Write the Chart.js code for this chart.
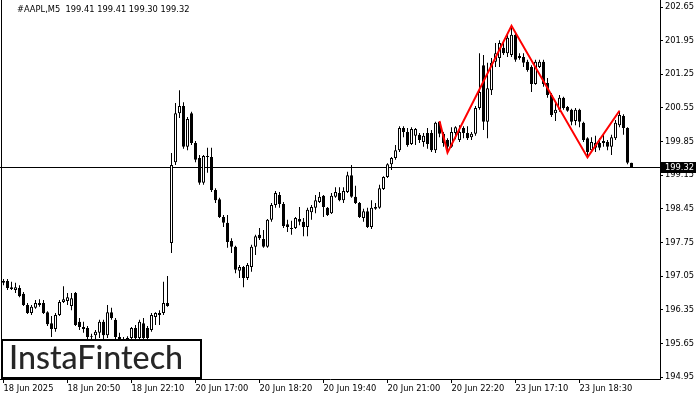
<!DOCTYPE html>
<html><head><meta charset="utf-8">
<script src="https://cdn.jsdelivr.net/npm/chart.js@4/dist/chart.umd.min.js"></script>
<style>html,body{margin:0;padding:0;background:#fff;}canvas{display:block;}</style>
</head><body>
<canvas id="c" width="700" height="400"></canvas>
<script>
const titleText = '#AAPL,M5  199.41 199.41 199.30 199.32';
const logoText = 'InstaFintech';
const lastPrice = 199.32;

const opens = [196.91,196.95,196.82,196.76,196.80,196.68,196.45,196.28,196.39,196.49,
196.49,196.30,196.07,195.95,196.24,196.51,196.53,196.43,196.70,196.10,
195.99,195.97,195.80,195.82,195.87,196.10,195.82,196.30,196.14,195.78,
195.74,195.68,195.76,195.97,195.76,196.07,195.97,195.93,196.20,196.24,
196.28,196.49,197.74,199.42,200.44,200.59,199.74,200.44,199.82,199.51,
198.99,199.55,199.53,198.84,198.65,198.28,198.16,197.78,197.66,197.16,
197.24,197.01,197.24,197.66,197.91,197.82,197.66,198.22,198.53,198.74,
198.55,198.13,198.05,198.05,198.24,198.18,198.07,198.38,198.47,198.59,
198.72,198.47,198.36,198.70,198.78,198.63,198.80,199.15,198.70,198.57,
198.26,198.40,198.07,198.45,198.47,198.86,199.11,199.38,199.51,199.67,
200.13,200.05,199.80,199.97,199.99,199.84,200.03,200.03,199.67,200.26,
200.01,199.88,199.74,200.03,199.88,200.13,200.03,199.94,200.01,200.55,
201.44,200.26,200.92,201.51,201.59,201.80,201.69,201.65,202.07,201.59,
201.61,201.51,201.40,201.05,201.40,201.51,201.07,200.82,200.44,200.51,
200.76,200.57,200.51,200.28,200.51,200.24,199.92,199.67,199.72,199.82,
199.82,199.84,199.74,199.92,200.19,200.38,200.13,199.41];
const highs = [196.99,196.99,196.93,196.91,196.86,196.72,196.49,196.45,196.55,196.57,
196.55,196.32,196.22,196.28,196.55,196.84,196.70,196.70,196.72,196.18,
196.10,196.01,195.85,195.93,196.14,196.14,196.45,196.39,196.18,195.87,
195.78,195.80,195.99,196.03,196.14,196.18,196.01,196.28,196.30,196.34,
196.93,197.05,199.61,200.65,200.92,200.67,200.36,200.47,199.86,199.57,
199.57,199.72,199.72,198.88,198.68,198.32,198.32,197.84,197.68,197.28,
197.26,197.32,197.70,197.91,198.05,198.01,198.24,198.57,198.82,198.80,
198.59,198.22,198.20,198.28,198.49,198.26,198.47,198.53,198.74,198.80,
198.74,198.49,198.78,198.90,198.90,198.90,199.22,199.36,198.93,198.59,
198.45,198.47,198.63,198.57,198.95,199.13,199.40,199.53,199.78,200.17,
200.17,200.13,200.15,200.13,200.03,200.03,200.13,200.09,200.26,200.28,
200.05,199.92,200.15,200.17,200.19,200.17,200.17,200.05,200.59,201.69,
201.65,201.49,201.59,201.90,201.96,201.90,202.11,202.26,202.11,201.69,
201.69,201.55,201.44,201.55,201.55,201.55,201.17,200.86,200.65,200.82,
200.78,200.59,200.53,200.55,200.53,200.26,199.94,199.94,199.97,199.92,
199.99,199.88,199.99,200.30,200.49,200.42,200.15,199.41];
const lows = [196.86,196.76,196.76,196.70,196.61,196.43,196.26,196.24,196.37,196.41,
196.26,196.01,195.78,195.89,196.22,196.49,196.45,196.34,196.01,195.93,
195.87,195.72,195.72,195.72,195.76,195.72,195.76,196.14,195.72,195.62,
195.55,195.59,195.62,195.62,195.68,195.68,195.68,195.89,196.03,196.03,
196.24,196.41,197.53,199.36,200.34,199.70,199.67,199.78,199.42,198.95,
198.95,199.20,198.80,198.57,198.26,198.07,197.64,197.53,197.11,197.01,
196.82,196.97,197.14,197.49,197.80,197.64,197.64,198.18,198.47,198.47,
198.05,197.97,197.91,198.03,198.11,197.88,197.88,198.22,198.36,198.57,
198.28,198.30,198.34,198.68,198.61,198.57,198.78,198.68,198.55,198.26,
198.18,198.05,198.03,198.43,198.45,198.84,199.09,199.26,199.47,199.63,
199.94,199.74,199.78,199.78,199.82,199.74,199.70,199.63,199.61,199.94,
199.74,199.62,199.72,199.90,199.84,199.92,199.88,199.88,199.97,200.51,
200.09,199.92,200.82,201.40,201.40,201.65,201.61,201.61,201.51,201.55,
201.40,201.30,200.88,201.03,201.38,200.99,200.76,200.36,200.28,200.47,
200.51,200.47,200.19,200.19,200.15,199.84,199.52,199.63,199.63,199.67,
199.74,199.67,199.57,199.88,200.15,199.99,199.38,199.30];
const closes = [196.95,196.80,196.78,196.82,196.63,196.45,196.28,196.41,196.49,196.45,
196.28,196.05,195.95,196.24,196.51,196.57,196.61,196.59,196.03,195.99,
195.95,195.78,195.78,195.89,196.10,195.82,196.30,196.18,195.78,195.74,
195.68,195.76,195.97,195.76,196.10,195.76,195.76,196.24,196.28,196.28,
196.49,196.43,199.36,200.44,200.59,199.74,200.32,199.82,199.47,198.99,
199.55,199.53,198.84,198.63,198.28,198.16,197.76,197.66,197.18,197.24,
197.01,197.28,197.66,197.88,197.84,197.66,198.22,198.53,198.78,198.55,
198.09,198.07,198.03,198.26,198.18,198.07,198.43,198.49,198.63,198.70,
198.49,198.32,198.72,198.80,198.63,198.82,199.15,198.70,198.57,198.28,
198.40,198.07,198.47,198.49,198.88,199.11,199.38,199.51,199.67,200.13,
200.05,199.78,200.11,200.11,199.88,199.97,199.80,199.67,200.24,200.01,
199.82,199.74,200.05,200.15,200.05,200.03,199.92,200.01,200.55,200.88,
200.26,200.96,201.49,201.69,201.90,201.69,202.01,202.07,201.55,201.63,
201.49,201.34,201.05,201.51,201.51,201.05,200.82,200.40,200.51,200.76,
200.55,200.49,200.26,200.51,200.26,199.88,199.63,199.84,199.82,199.72,
199.86,199.74,199.94,200.24,200.40,200.13,199.41,199.32];

const timeTickIndex = [0,16,32,48,64,80,96,112,128,144];
const timeTickLabels = ['18 Jun 2025','18 Jun 20:50','18 Jun 22:10','20 Jun 17:00','20 Jun 18:20',
'20 Jun 19:40','20 Jun 21:00','20 Jun 22:20','23 Jun 17:10','23 Jun 18:30'];
const priceTicks = [194.95,195.65,196.35,197.05,197.75,198.45,199.15,199.85,200.55,201.25,201.95,202.65];
const patternIndex = [109,111,127,146,154];
const patternPrice = [200.28,199.62,202.26,199.52,200.49];

const FONT = 'DejaVu Sans';
const bodies = opens.map((o,i)=>({x:i, y:[o, closes[i]]}));
const wicks = highs.map((h,i)=>({x:i, y:[lows[i], h]}));
const bodyColors = opens.map((o,i)=> closes[i] >= o ? '#ffffff' : '#000000');
const pattern = patternIndex.map((x,i)=>({x:x, y:patternPrice[i]}));

const overlay = {
  id:'overlay',
  beforeDatasetsDraw(chart){
    const {ctx, chartArea:a, scales:{y}} = chart;
    const py = Math.round(y.getPixelForValue(lastPrice)) + 0.5;
    ctx.save();
    ctx.strokeStyle = '#000'; ctx.lineWidth = 1;
    ctx.beginPath(); ctx.moveTo(a.left, py); ctx.lineTo(a.right, py); ctx.stroke();
    ctx.restore();
  },
  afterDraw(chart){
    const {ctx, chartArea:a, scales:{y}} = chart;
    ctx.save();
    ctx.strokeStyle = '#000'; ctx.lineWidth = 1;
    ctx.beginPath(); ctx.moveTo(1.5, a.top); ctx.lineTo(1.5, a.bottom); ctx.stroke();
    const py = Math.round(y.getPixelForValue(lastPrice));
    ctx.fillStyle = '#000';
    ctx.fillRect(a.right + 1, py - 5, 35, 11);
    ctx.fillStyle = '#fff';
    ctx.font = '8.3px "' + FONT + '"';
    ctx.textBaseline = 'middle'; ctx.textAlign = 'left';
    ctx.fillText(lastPrice.toFixed(2), a.right + 5, py + 0.5);
    ctx.fillStyle = '#000';
    ctx.fillText(titleText, 17, 10);
    // logo
    ctx.fillStyle = '#fff';
    ctx.fillRect(2, 340, 199, 38);
    ctx.strokeStyle = '#000'; ctx.lineWidth = 2;
    ctx.strokeRect(2, 340, 199, 38);
    ctx.fillStyle = '#262626';
    ctx.font = '500 30px Lato';
    const w = ctx.measureText(logoText).width;
    const size = 30 * 174 / w;
    ctx.font = '500 ' + size.toFixed(1) + 'px Lato';
    ctx.textBaseline = 'alphabetic';
    ctx.fillText(logoText, 9, 369);
    ctx.restore();
  }
};

new Chart(document.getElementById('c'), {
  type: 'bar',
  data: { datasets: [
    {type:'line', data: pattern, borderColor:'#ff0000', borderWidth:2, pointRadius:0, tension:0, fill:false, order:0},
    {type:'bar', data: bodies, backgroundColor: bodyColors, borderColor:'#000000', borderWidth:1, borderSkipped:false,
      barThickness:3, grouped:false, inflateAmount:0, order:1},
    {type:'bar', data: wicks, backgroundColor:'#000000', borderWidth:0, barThickness:1, grouped:false, inflateAmount:0, order:2}
  ]},
  options: {
    responsive:false, animation:false, devicePixelRatio:1,
    layout:{padding:0},
    plugins:{legend:{display:false}, tooltip:{enabled:false}, title:{display:false}},
    scales:{
      x:{type:'linear', min:-0.875, max:164.125, offset:false,
        grid:{display:true, drawOnChartArea:false, drawTicks:true, tickLength:4, color:'#000', offset:false},
        border:{display:true, color:'#000'},
        ticks:{autoSkip:false, maxRotation:0, minRotation:0, align:'start', padding:1, color:'#000',
          font:{family:FONT, size:8.3}, callback:(v,idx)=>timeTickLabels[idx]},
        afterBuildTicks: s=>{ s.ticks = timeTickIndex.map(v=>({value:v})); },
        afterFit: s=>{ s.height = 21; s.paddingLeft = 0; s.paddingRight = 0; s.paddingTop = 0; s.paddingBottom = 0; }
      },
      y:{type:'linear', position:'right', min:194.9084, max:202.7957,
        grid:{display:true, drawOnChartArea:false, drawTicks:true, tickLength:3, color:'#000'},
        border:{display:true, color:'#000'},
        ticks:{padding:2, color:'#000', font:{family:FONT, size:8.3}, callback:v=>Number(v).toFixed(2)},
        afterBuildTicks: s=>{ s.ticks = priceTicks.map(v=>({value:v})); },
        afterFit: s=>{ s.width = 40; s.paddingTop = 0; s.paddingBottom = 0; s.paddingLeft = 0; s.paddingRight = 0; }
      }
    }
  },
  plugins:[overlay]
});
</script>
</body></html>
